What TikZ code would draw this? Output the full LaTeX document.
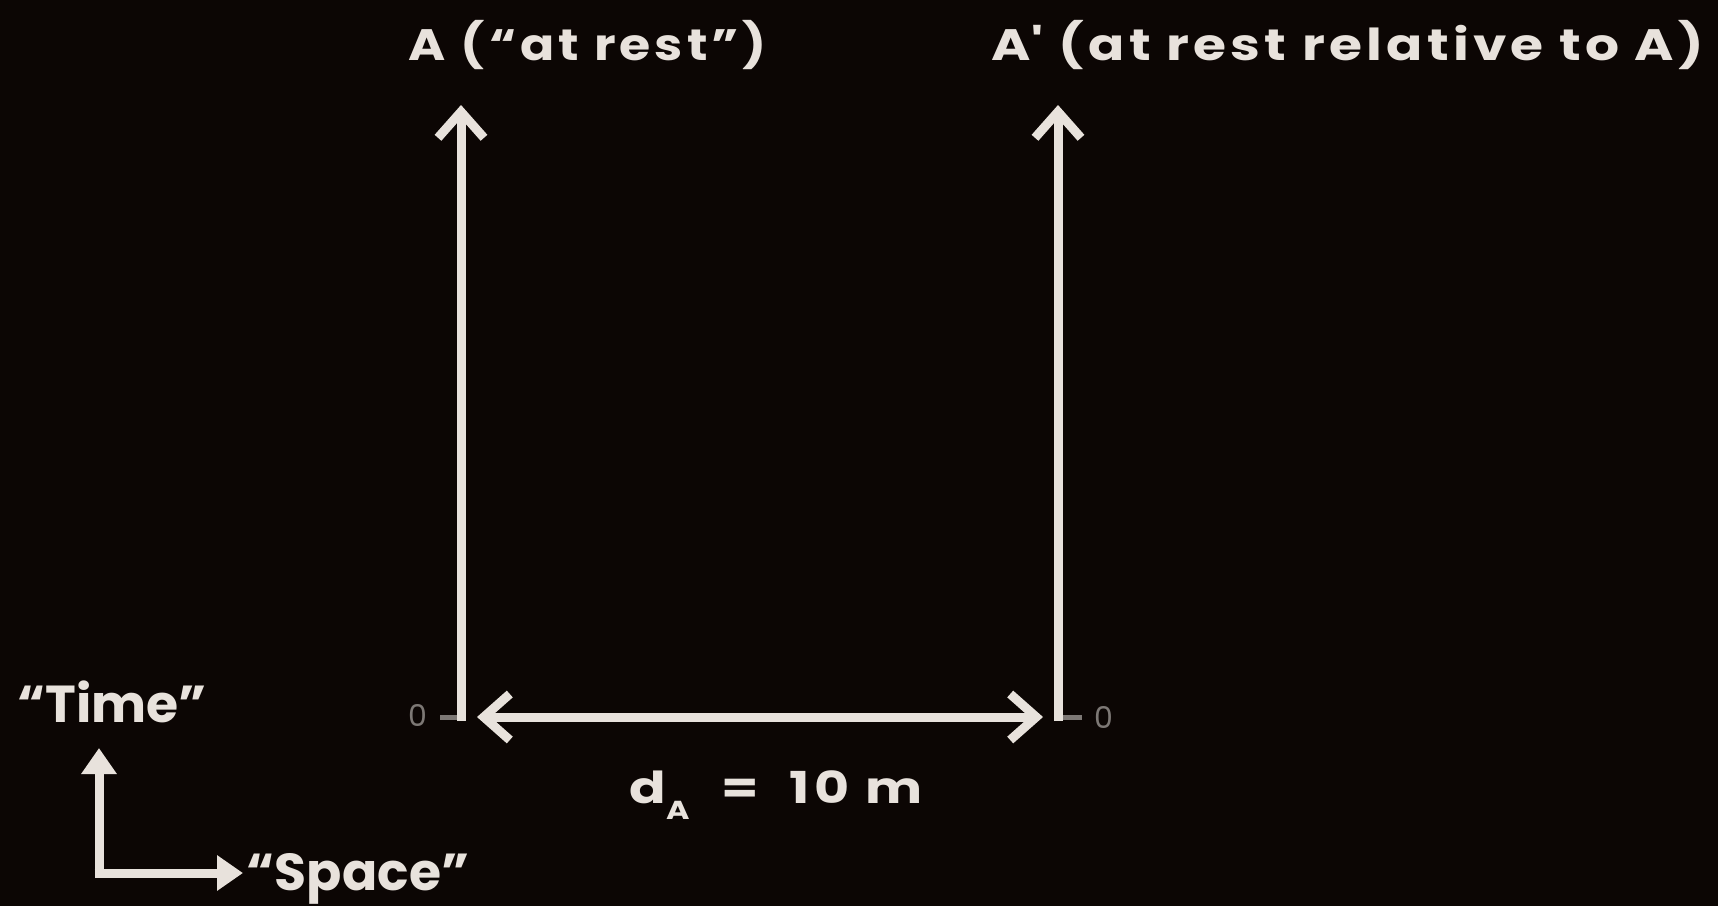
\documentclass[tikz,border=0pt]{standalone}
\usepackage{fontspec}
\usepackage{graphicx}
\setmainfont{Poppins}
\usetikzlibrary{arrows.meta}
\definecolor{bg}{RGB}{12,6,4}
\definecolor{fg}{RGB}{232,226,220}
\definecolor{dimfg}{RGB}{125,120,117}
\newcommand{\fitw}[2]{\resizebox{#1}{\height}{#2}}
\tikzset{
  worldline/.style={draw=fg, line width=9pt, -{Straight Barb[length=26pt,width=46pt]}},
  span/.style={draw=fg, line width=9pt, {Straight Barb[length=26pt,width=46pt]}-{Straight Barb[length=26pt,width=46pt]}},
  axis/.style={draw=fg, line width=9pt, -{Triangle[length=26pt,width=34pt]}},
  tick/.style={draw=dimfg, line width=5pt},
  label/.style={text=fg, font=\fontsize{44}{50}\selectfont\bfseries\addfontfeatures{LetterSpace=8}, inner sep=0pt, anchor=base},
  biglabel/.style={text=fg, font=\fontsize{52}{58}\selectfont\bfseries, inner sep=0pt, anchor=base},
  zero/.style={text=dimfg, font=\fontsize{30}{34}\selectfont, inner sep=0pt},
}
\begin{document}
\begin{tikzpicture}[x=1pt,y=-1pt]
\useasboundingbox (0,0) rectangle (1718,906);
\fill[bg] (0,0) rectangle (1718,906);

% world lines
\coordinate (Abot) at (461,721);
\coordinate (Atop) at (461,105);
\coordinate (Bbot) at (1058,721);
\coordinate (Btop) at (1058,105);
\coordinate (Atick) at (440,717);
\coordinate (Btick) at (1082,717);
\coordinate (Aleft) at (461,717);
\coordinate (Bright) at (1058,717);

\draw[tick] (Atick) -- (Aleft);
\draw[tick] (Bright) -- (Btick);
\draw[worldline] (Abot) -- (Atop);
\draw[worldline] (Bbot) -- (Btop);

\coordinate (dl) at (477,717);
\coordinate (dr) at (1043,717);
\draw[span] (dl) -- (dr);

\node[zero] (z1) at (418,715) {0};
\node[zero] (z2) at (1104,717) {0};

% titles
\node[label] (tA) at (588,60) {\fitw{358pt}{A (“at rest”)}};
\node[label] (tB) at (1348,60) {\fitw{712pt}{A\textquotesingle{} (at rest relative to A)}};

% distance label
\node[label] (dA) at (776,803) {\fitw{293pt}{d\raisebox{-0.38em}{\fontsize{26}{30}\selectfont A}\ \ =\ \ 10\ m}};

% small axes
\coordinate (corner) at (99,873);
\coordinate (tup) at (99,748);
\coordinate (tright) at (243,873);
\draw[axis] ([yshift=4.5pt]corner) -- (tup);
\draw[axis] ([xshift=-4.5pt]corner) -- (tright);
\node[biglabel] (time) at (112,722) {“Time”};
\node[biglabel] (space) at (358,890) {“Space”};
\end{tikzpicture}
\end{document}
